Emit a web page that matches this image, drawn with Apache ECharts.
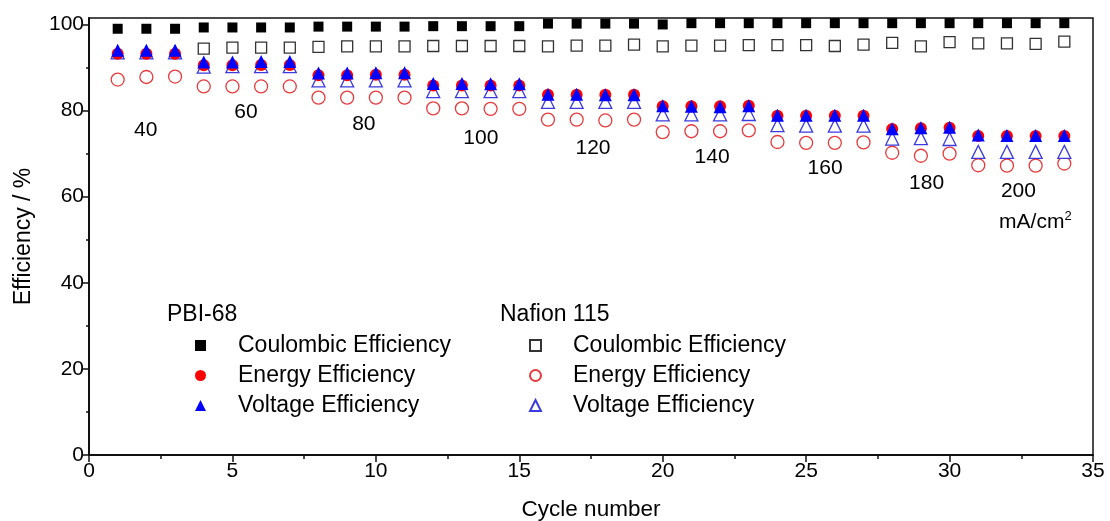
<!DOCTYPE html>
<html>
<head>
<meta charset="utf-8">
<script src="https://cdn.jsdelivr.net/npm/echarts@6/dist/echarts.min.js"></script>
<style>
  html, body { margin: 0; padding: 0; background: #fff; }
  #chart { width: 1110px; height: 521px; }
</style>
</head>
<body>
<div id="chart"></div>
<script>
// cycle numbers
const cycles = [1,2,3,4,5,6,7,8,9,10,11,12,13,14,15,16,17,18,19,20,21,22,23,24,25,26,27,28,29,30,31,32,33,34]

// PBI-68 membrane
const pbiCE = [99.0,99.0,99.0, 99.3,99.3,99.3,99.3, 99.5,99.5,99.5,99.5, 99.6,99.6,99.6,99.6, 100.2,100.2,100.2,100.2, 100.0,100.3,100.3,100.3, 100.3,100.3,100.3,100.3, 100.3,100.3,100.3, 100.3,100.3,100.3,100.3]
const pbiEE = [93.2,93.2,93.2, 90.5,90.5,90.6,90.6, 88.2,88.2,88.3,88.3, 85.8,85.8,85.8,85.8, 83.7,83.7,83.7,83.7, 81.0,81.0,81.0,81.1, 78.8,78.8,78.8,78.8, 75.7,75.9,76.0, 74.1,74.1,74.1,74.1]
const pbiVE = [94.0,94.0,94.0, 91.3,91.3,91.4,91.4, 88.7,88.7,88.8,88.8, 86.3,86.3,86.2,86.2, 83.8,83.8,83.7,83.7, 81.1,81.0,80.9,81.1, 78.9,78.9,78.9,78.9, 75.8,76.0,76.1, 74.3,74.2,74.2,74.2]

// Nafion 115 membrane (no coulombic point visible for the first three cycles)
const nafCE = [null,null,null, 94.4,94.6,94.6,94.6, 94.8,94.9,94.9,94.9, 95.0,95.0,95.0,95.0, 94.9,95.1,95.1,95.3, 94.9,95.1,95.1,95.2, 95.2,95.2,95.0,95.3, 95.7,94.9,95.9, 95.6,95.6,95.5,96.0]
const nafEE = [87.2,87.8,87.9, 85.6,85.6,85.6,85.6, 83.0,83.0,83.0,83.0, 80.5,80.5,80.4,80.4, 77.9,77.9,77.7,77.9, 75.0,75.2,75.2,75.4, 72.7,72.5,72.5,72.6, 70.2,69.5,70.0, 67.3,67.2,67.2,67.7]
const nafVE = [93.5,93.5,93.5, 90.2,90.3,90.3,90.3, 87.0,87.0,87.0,87.0, 84.5,84.5,84.5,84.5, 82.0,82.0,82.0,82.0, 79.1,79.1,79.1,79.2, 76.6,76.5,76.5,76.5, 73.5,73.6,73.4, 70.4,70.4,70.4,70.4]

// current density labels and where they sit (data coordinates)
const densityLabels = ['40','60','80','100','120','140','160','180','200']
const densityX = [1.98, 5.47, 9.58, 13.66, 17.57, 21.72, 25.66, 29.2, 32.4]
const densityY = [75.4, 79.6, 76.8, 73.6, 71.3, 69.2, 66.6, 63.1, 61.3]

const yTicks = [0,20,40,60,80,100]
const yMinorTicks = [10,30,50,70,90]

const FONT = 'Liberation Sans, Arial, sans-serif'
const INK = '#000'

const pairs = (ys) => cycles.map((c, i) => [c, ys[i]])

const mychart = echarts.init(document.getElementById('chart'))

const pbiNames = ['PBI Coulombic Efficiency', 'PBI Energy Efficiency', 'PBI Voltage Efficiency']
const nafNames = ['NAF Coulombic Efficiency', 'NAF Energy Efficiency', 'NAF Voltage Efficiency']
const stripPrefix = (n) => n.replace(/^(PBI|NAF) /, '')

const legendBase = {
  orient: 'vertical',
  top: 329,
  itemWidth: 11, itemHeight: 11, itemGap: 7,
  formatter: stripPrefix,
  textStyle: { fontSize: 23, color: INK, fontFamily: FONT, padding: [0, 0, 0, 27] },
}

mychart.setOption({
  animation: false,
  textStyle: { fontFamily: FONT },
  grid: {
    left: 89, right: 17, top: 18, bottom: 66,
    outerBoundsMode: 'none',
    show: true, borderColor: '#111', borderWidth: 1.5,
  },
  xAxis: {
    type: 'value',
    min: 0, max: 35, interval: 5,
    name: 'Cycle number',
    nameLocation: 'middle',
    nameGap: 43,
    nameTextStyle: { fontSize: 22.5, color: INK, fontFamily: FONT },
    axisLine: { lineStyle: { color: '#111', width: 2 } },
    axisTick: { length: 7, lineStyle: { color: '#111', width: 1.5 } },
    minorTick: { show: true, splitNumber: 2, length: 4, lineStyle: { color: '#111', width: 1.5 } },
    axisLabel: { fontSize: 21, color: INK, margin: 6, fontFamily: FONT },
    splitLine: { show: false },
  },
  yAxis: [
    {
      type: 'value',
      min: 0, max: 101.5,
      name: 'Efficiency / %',
      nameLocation: 'middle',
      nameGap: 54,
      nameTextStyle: { fontSize: 23, color: INK, fontFamily: FONT },
      axisLine: { show: true, lineStyle: { color: '#111', width: 2 } },
      axisTick: { show: true, length: 6, customValues: yTicks, lineStyle: { color: '#111', width: 1.5 } },
      axisLabel: { fontSize: 21, color: INK, margin: 5, customValues: yTicks, fontFamily: FONT },
      splitLine: { show: false },
    },
    {
      // minor ticks only
      type: 'value',
      min: 0, max: 101.5,
      position: 'left',
      axisLine: { show: false },
      axisTick: { show: true, length: 3, customValues: yMinorTicks, lineStyle: { color: '#111', width: 1.5 } },
      axisLabel: { show: false },
      splitLine: { show: false },
    },
  ],
  legend: [
    Object.assign({ data: pbiNames, left: 190 }, legendBase),
    Object.assign({ data: nafNames, left: 524 }, legendBase),
  ],
  graphic: [
    { type: 'text', left: 167, top: 303, style: { text: 'PBI-68', fontSize: 23, fill: INK, fontFamily: FONT } },
    { type: 'text', left: 500, top: 303, style: { text: 'Nafion 115', fontSize: 23, fill: INK, fontFamily: FONT } },
  ],
  series: [
    {
      type: 'scatter', name: nafNames[0], data: pairs(nafCE),
      symbol: 'rect', symbolSize: 11,
      itemStyle: { color: '#fff', borderColor: '#333', borderWidth: 1.3, opacity: 1 },
    },
    {
      type: 'scatter', name: nafNames[1], data: pairs(nafEE),
      symbol: 'circle', symbolSize: 13,
      itemStyle: { color: '#fff', borderColor: '#e83a3d', borderWidth: 1.3, opacity: 1 },
    },
    {
      type: 'scatter', name: nafNames[2], data: pairs(nafVE),
      symbol: 'triangle', symbolSize: 13,
      itemStyle: { color: '#fff', borderColor: '#3b3be0', borderWidth: 1.3, opacity: 1 },
    },
    {
      type: 'scatter', name: pbiNames[0], data: pairs(pbiCE),
      symbol: 'rect', symbolSize: 10,
      itemStyle: { color: '#000', opacity: 1 },
    },
    {
      type: 'scatter', name: pbiNames[1], data: pairs(pbiEE),
      symbol: 'circle', symbolSize: 12,
      itemStyle: { color: '#ff0000', opacity: 1 },
    },
    {
      type: 'scatter', name: pbiNames[2], data: pairs(pbiVE),
      symbol: 'triangle', symbolSize: 13,
      itemStyle: { color: '#0000ff', opacity: 1 },
    },
    {
      // current density annotations
      type: 'scatter', name: 'density', silent: true,
      symbolSize: 0,
      itemStyle: { opacity: 1 },
      data: densityLabels.map((t, i) => ({ name: t, value: [densityX[i], densityY[i]] }))
        .concat([{ name: 'unit', value: [32.99, 54.1] }]),
      label: {
        show: true, position: 'inside',
        fontSize: 21, color: INK, fontFamily: FONT,
        formatter: (p) => p.name === 'unit' ? '{u|mA/cm}{s|2}' : p.name,
        rich: {
          u: { fontSize: 21, color: INK, fontFamily: FONT },
          s: { fontSize: 13, color: INK, fontFamily: FONT, padding: [0, 0, 11, 0] },
        },
      },
    },
  ],
})
</script>
</body>
</html>
